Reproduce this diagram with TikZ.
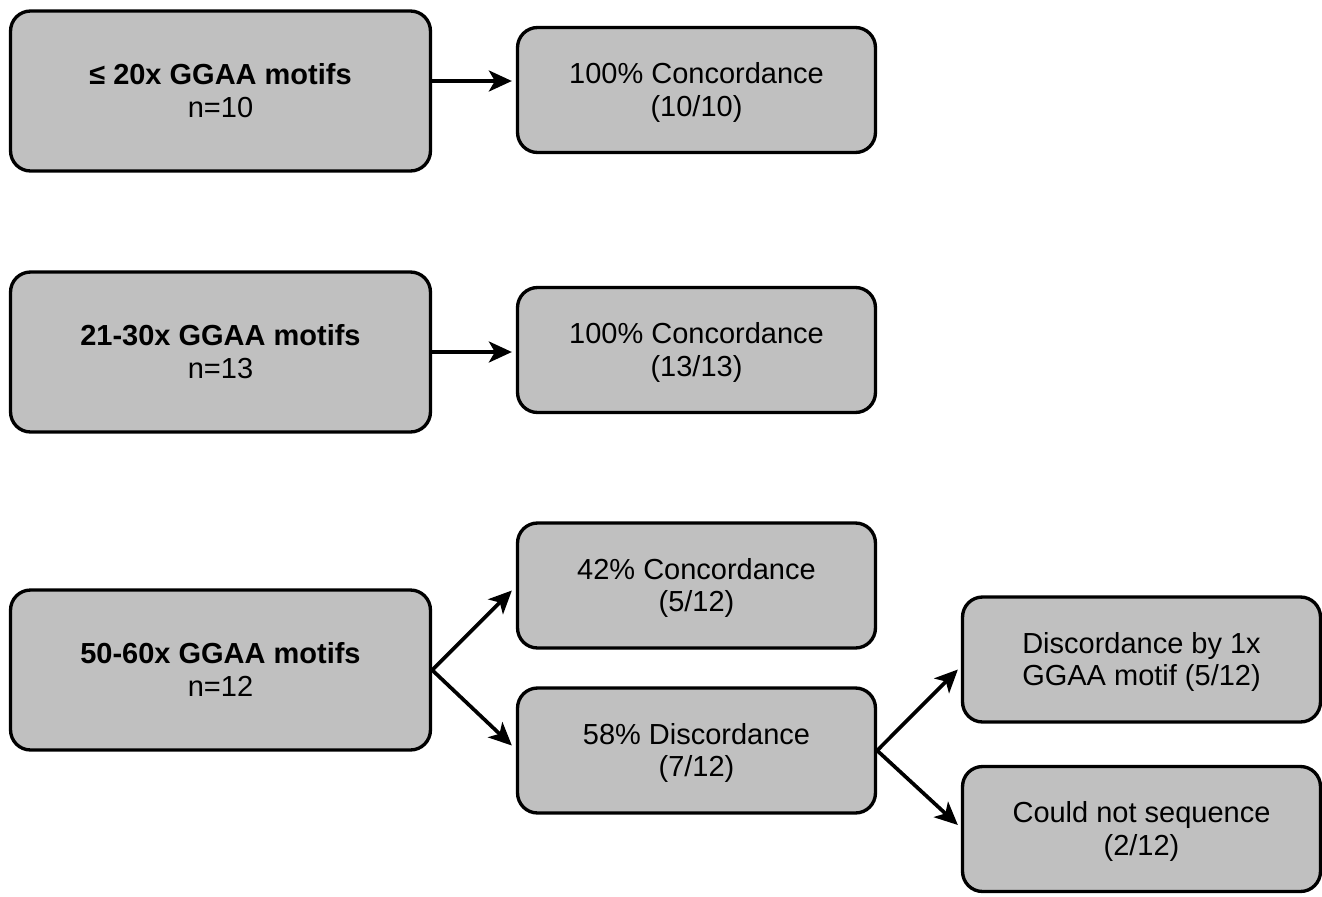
\documentclass[tikz,border=0pt]{standalone}
\usepackage{fontspec}
\setmainfont{Liberation Sans}
\usetikzlibrary{arrows.meta}

\definecolor{boxgray}{RGB}{192,192,192}
\tikzset{
  grpbox/.style={draw=black, fill=boxgray, line width=1.9pt, rounded corners=0.4cm,
    align=center, inner sep=0pt, text depth=0.02cm, font=\fontsize{16.5}{18.7}\selectfont},
  big/.style={grpbox, minimum width=8.4cm, minimum height=3.2cm},
  small/.style={grpbox, minimum width=7.16cm, minimum height=2.5cm},
  arr/.style={line width=2.1pt, -{Stealth[length=0.46cm, width=0.42cm, inset=0.12cm]}}
}

\begin{document}
\begin{tikzpicture}[x=0.02cm, y=-0.02cm]
\useasboundingbox (0,0) rectangle (1322,896);

% groups by repeat length
\node[big] (lowrep) at (220.5,91) {\textbf{≤ 20x GGAA motifs}\\n=10};
\node[big] (midrep) at (220.5,352) {\textbf{21-30x GGAA motifs}\\n=13};
\node[big] (hirep)  at (220.5,670) {\textbf{50-60x GGAA motifs}\\n=12};

% outcomes
\node[small] (concA) at (696.5,90)    {100\% Concordance\\(10/10)};
\node[small] (concB) at (696.5,350)   {100\% Concordance\\(13/13)};
\node[small] (concC) at (696.5,585.5) {42\% Concordance\\(5/12)};
\node[small] (disc)  at (696.5,750.5) {58\% Discordance\\(7/12)};
\node[small] (discone) at (1141.5,659.5) {Discordance by 1x\\GGAA motif (5/12)};
\node[small] (noseq)   at (1141.5,829)   {Could not sequence\\(2/12)};

\draw[arr] ([yshift=0.2cm]lowrep.east) -- ([xshift=-0.08cm,yshift=0.2cm]lowrep.east -| concA.west);
\draw[arr] (midrep.east) -- ([xshift=-0.08cm]midrep.east -| concB.west);
\draw[arr] (hirep.east) -- ([xshift=-0.08cm,yshift=-0.1cm]concC.west);
\draw[arr] (hirep.east) -- ([xshift=-0.08cm,yshift=0.1cm]disc.west);
\draw[arr] (disc.east) -- ([xshift=-0.06cm,yshift=-0.2cm]discone.west);
\draw[arr] (disc.east) -- ([xshift=-0.06cm,yshift=0.08cm]noseq.west);
\end{tikzpicture}
\end{document}
